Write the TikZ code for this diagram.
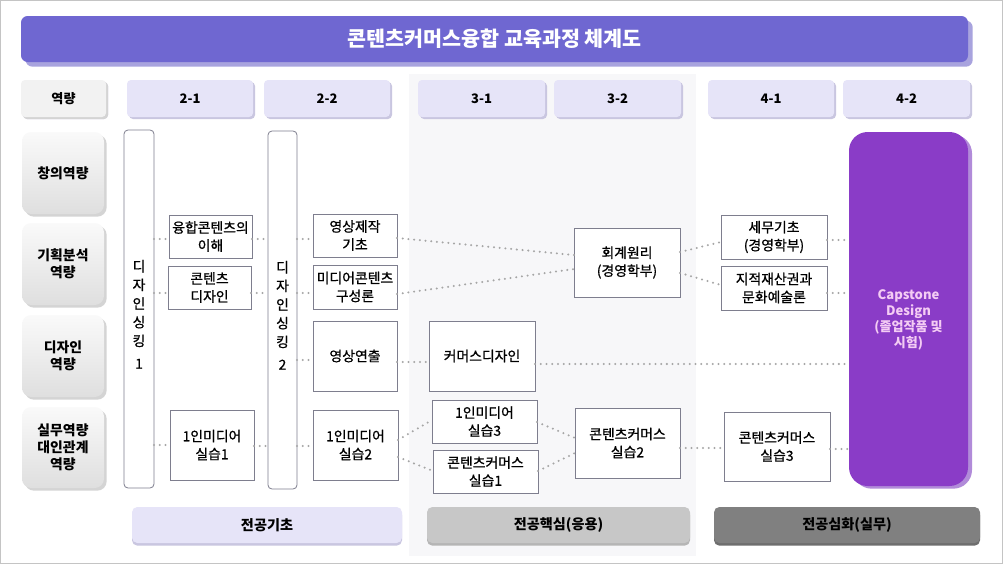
\documentclass[tikz,border=0pt]{standalone}
\usepackage{fontspec}
\setmainfont{Noto Sans CJK KR}
\newfontfamily\medfont{Noto Sans CJK KR}[FakeBold=0.8]
\usetikzlibrary{shadows,calc}
\definecolor{titlec}{HTML}{6F67D1}
\definecolor{titlesh}{HTML}{A8A3DE}
\definecolor{lav}{HTML}{E6E4F8}
\definecolor{lavsh}{HTML}{C9C6E0}
\definecolor{compc}{HTML}{F2F2F2}
\definecolor{compsh}{HTML}{D4D4D4}
\definecolor{boxc}{HTML}{7E7E8E}
\definecolor{dotc}{HTML}{A6A6A6}
\definecolor{capc}{HTML}{8A3CC7}
\definecolor{capsh}{HTML}{B18BD9}
\definecolor{captext}{HTML}{F4CCF4}
\definecolor{panelc}{HTML}{F7F7F9}
\definecolor{midg}{HTML}{C7C7C7}
\definecolor{midgsh}{HTML}{B5B5B5}
\definecolor{darkg}{HTML}{808080}
\definecolor{darkgsh}{HTML}{6E6E6E}
\definecolor{framec}{HTML}{C4C4C4}
\newcommand\fs[2]{\fontsize{#1}{#2}\selectfont}
% [style]{name}{x1}{y1}{x2}{y2}{text}  (pixel coordinates)
\newcommand\mybox[7][]{\node[#1, minimum width={(#5-#3)*0.75pt}, minimum height={(#6-#4)*0.75pt}] (#2) at ({(#3+#5)/2},{(#4+#6)/2}) {#7};}
\tikzset{
  base/.style={inner sep=0pt, outer sep=0pt, align=center},
  box/.style={base, draw=boxc, fill=white, line width=0.6pt, font=\medfont\fs{10.4}{13.5}},
  vbox/.style={base, draw=boxc, fill=white, line width=0.6pt, rounded corners=3pt},
  vtext/.style={font=\medfont\fs{10.4}{14}, align=center, yshift=-4pt},
  hdr/.style={base, fill=lav, rounded corners=3pt, font=\bfseries\fs{9.8}{12},
    drop shadow={shadow xshift=1.5pt, shadow yshift=-1.5pt, fill=lavsh, opacity=1}},
  comp/.style={base, top color=white!60!compc, bottom color=compc!92!black, rounded corners=7pt, font=\bfseries\fs{10.4}{12.8},
    drop shadow={shadow xshift=2pt, shadow yshift=-2pt, fill=compsh, opacity=1}},
  bar/.style={base, rounded corners=4pt, font=\bfseries\fs{10.6}{12}},
  conn/.style={draw=dotc, line width=1.7pt, line cap=round, dash pattern=on 0pt off 4.3pt},
}
\begin{document}
\begin{tikzpicture}[x=0.75pt,y=-0.75pt]
\useasboundingbox (0,0) rectangle (1003,564);
\fill[white] (0,0) rectangle (1003,564);
\draw[framec, line width=1pt] (0.5,0.5) rectangle (1002.5,563.5);
% panel for 3rd year
\mybox[base, fill=panelc]{pnl}{409}{74}{696}{556}{}
% title
\mybox[base, fill=titlec, rounded corners=5pt, text=white, font=\bfseries\fs{15.5}{18},
  drop shadow={shadow xshift=3.5pt, shadow yshift=-3.5pt, fill=titlesh, opacity=1}]{title}{21}{16}{968}{62}{콘텐츠커머스융합 교육과정 체계도}
% header row
\mybox[hdr, fill=compc, drop shadow={shadow xshift=1.5pt, shadow yshift=-1.5pt, fill=compsh, opacity=1}]{hcomp}{21}{80}{106}{117}{역량}
\mybox[hdr]{h21}{127}{80}{253}{117}{2-1}
\mybox[hdr]{h22}{264}{80}{390}{117}{2-2}
\mybox[hdr]{h31}{418}{80}{545}{117}{3-1}
\mybox[hdr]{h32}{554}{80}{681}{117}{3-2}
\mybox[hdr]{h41}{708}{80}{834}{117}{4-1}
\mybox[hdr]{h42}{843}{80}{970}{117}{4-2}
% competencies
\mybox[comp]{c1}{22}{132}{104}{214}{창의역량}
\mybox[comp]{c2}{22}{223}{104}{305}{기획분석\\역량}
\mybox[comp]{c3}{22}{315}{104}{397}{디자인\\역량}
\mybox[comp]{c4}{22}{407}{104}{488}{실무역량\\대인관계\\역량}
% design thinking columns
\mybox[vbox, label={[vtext]center:디\\자\\인\\싱\\킹\\[3pt]1}]{ds1}{124}{130}{154}{488}{}
\mybox[vbox, label={[vtext]center:디\\자\\인\\싱\\킹\\[3pt]2}]{ds2}{268}{131}{297}{489}{}
% 2-1
\mybox[box]{a}{169}{215}{252}{258}{융합콘텐츠의\\이해}
\mybox[box]{b}{168}{266}{251}{309}{콘텐츠\\디자인}
\mybox[box]{c}{170}{410}{254}{480}{1인미디어\\실습1}
% 2-2
\mybox[box]{se}{313}{214}{397}{257}{영상제작\\기초}
\mybox[box]{mc}{313}{265}{397}{309}{미디어콘텐츠\\구성론}
\mybox[box]{yy}{313}{321}{397}{391}{영상연출}
\mybox[box]{s2}{313}{410}{398}{480}{1인미디어\\실습2}
% 3rd year
\mybox[box]{cd}{429}{321}{535}{391}{커머스디자인}
\mybox[box]{hw}{574}{228}{680}{297}{회계원리\\(경영학부)}
\mybox[box]{m3}{432}{400}{537}{443}{1인미디어\\실습3}
\mybox[box]{k1}{433}{450}{538}{493}{콘텐츠커머스\\실습1}
\mybox[box]{k2}{575}{408}{680}{478}{콘텐츠커머스\\실습2}
% 4th year
\mybox[box]{tax}{721}{215}{827}{259}{세무기초\\(경영학부)}
\mybox[box]{ip}{721}{266}{827}{310}{지적재산권과\\문화예술론}
\mybox[box]{k3}{724}{412}{830}{481}{콘텐츠커머스\\실습3}
\mybox[base, fill=capc, rounded corners=14pt,
  drop shadow={shadow xshift=3pt, shadow yshift=-2pt, fill=capsh, opacity=1},
  label={[font=\bfseries\fs{9.8}{12}, text=captext, align=center, yshift=-8pt]center:Capstone\\Design\\(졸업작품 및\\시험)}]{cap}{849}{132}{968}{486}{}
% bottom bars
\mybox[bar, fill=lav, drop shadow={shadow xshift=0pt, shadow yshift=-2pt, fill=lavsh, opacity=1}]{bb1}{132}{507}{402}{543}{전공기초}
\mybox[bar, fill=midg, drop shadow={shadow xshift=0pt, shadow yshift=-2pt, fill=midgsh, opacity=1}]{bb2}{427}{507}{690}{543}{전공핵심(응용)}
\mybox[bar, fill=darkg, drop shadow={shadow xshift=0pt, shadow yshift=-2pt, fill=darkgsh, opacity=1}]{bb3}{714}{507}{980}{543}{전공심화(실무)}
% connectors
\draw[conn] (ds1.east |- 0,239) -- (a.west |- 0,239);
\draw[conn] (ds1.east |- 0,293) -- (b.west |- 0,293);
\draw[conn] (ds1.east |- 0,445) -- (c.west |- 0,445);
\draw[conn] (a.east |- 0,239) -- (ds2.west |- 0,239);
\draw[conn] (b.east |- 0,293) -- (ds2.west |- 0,293);
\draw[conn] (c.east |- 0,446) -- (ds2.west |- 0,446);
\draw[conn] (ds2.east |- 0,239) -- (se.west |- 0,239);
\draw[conn] (ds2.east |- 0,293) -- (mc.west |- 0,293);
\draw[conn] (ds2.east |- 0,360) -- (yy.west |- 0,360);
\draw[conn] (ds2.east |- 0,446) -- (s2.west |- 0,446);
\draw[conn] (se.east |- 0,238) -- (hw.west |- 0,255);
\draw[conn] (mc.east |- 0,294) -- (hw.west |- 0,269);
\draw[conn] (yy.east |- 0,362) -- (cd.west |- 0,362);
\draw[conn] (cd.east |- 0,364) -- (cap.west |- 0,364);
\draw[conn] (s2.east |- 0,440) -- (m3.west |- 0,420);
\draw[conn] (s2.east |- 0,457) -- (k1.west |- 0,471);
\draw[conn] (m3.east |- 0,422) -- (k2.west |- 0,438);
\draw[conn] (k1.east |- 0,471) -- (k2.west |- 0,453);
\draw[conn] (k2.east |- 0,448) -- (k3.west |- 0,448);
\draw[conn] (hw.east |- 0,252) -- (tax.west |- 0,242);
\draw[conn] (hw.east |- 0,273) -- (ip.west |- 0,285);
\draw[conn] (tax.east |- 0,240) -- (cap.west |- 0,240);
\draw[conn] (ip.east |- 0,293) -- (cap.west |- 0,293);
\draw[conn] (k3.east |- 0,449) -- (cap.west |- 0,449);
\end{tikzpicture}
\end{document}
